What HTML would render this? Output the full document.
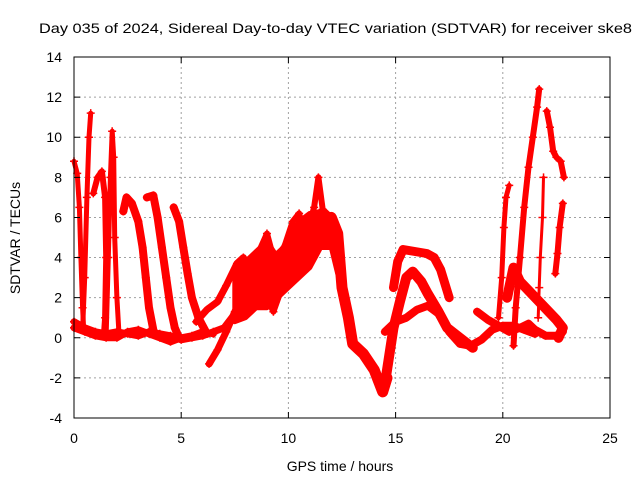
<!DOCTYPE html>
<html><head><meta charset="utf-8"><style>
body{margin:0;background:#fff}
svg{display:block;font-family:"Liberation Sans",sans-serif}
</style></head><body>
<svg id="chart" width="640" height="480" viewBox="0 0 640 480">
<rect width="640" height="480" fill="#fff"/>
<text x="39" y="33" font-size="14" textLength="593" lengthAdjust="spacingAndGlyphs">Day 035 of 2024, Sidereal Day-to-day VTEC variation (SDTVAR) for receiver ske8</text>
<g id="grid"></g>
<g id="marks"></g>
<rect x="74" y="57" width="536" height="361" fill="none" stroke="#000" stroke-width="1"/>
<g id="ticks"></g>
<text x="340" y="471" font-size="14" text-anchor="middle">GPS time / hours</text>
<text transform="translate(20,238) rotate(-90)" font-size="14" text-anchor="middle">SDTVAR / TECUs</text>
</svg>
<script>
const xTicks=[0,5,10,15,20,25];
const yTicks=[-4,-2,0,2,4,6,8,10,12,14];
const bandHours=[7.5,8,8.5,9,9.5,10,10.5,11,11.5,12,12.3];
const bandLow=[0.8,1.0,1.5,1.5,2.0,2.5,3.0,3.5,4.5,4.5,3.2];
const bandHigh=[3.3,3.8,4.3,4.8,4.0,5.0,5.8,6.2,6.3,6.0,5.5];
const baselineA=[[0,0.8],[0.5,0.5],[1,0.3],[1.5,0.2],[2,0.3],[2.5,0.2],[3,0.1],[3.5,0.3],[4,0.2],[4.5,0.1],[5,-0.1],[5.5,0],[6,0.1],[6.5,0.3],[7,0.5],[7.5,1.2]];
const baselineB=[[0,0.5],[0.5,0.3],[1,0.1],[1.5,0],[2,0],[2.5,0.3],[3,0.4],[3.5,0.2],[4,0],[4.5,-0.2],[5,0],[5.5,0.1],[6,0.3],[6.5,0.2]];
const spike1=[[0,8.8],[0.15,8.2],[0.25,6.5],[0.32,4],[0.4,1.5],[0.45,0.5]];
const spike2=[[0.4,0.4],[0.5,3],[0.6,7],[0.7,10],[0.78,11.2]];
const spike3=[[0.9,7.2],[1.1,8],[1.3,8.3],[1.45,7],[1.5,4],[1.45,1],[1.4,0.2]];
const spike4=[[1.5,0.2],[1.6,4],[1.7,8],[1.78,10.3],[1.85,9],[1.9,5],[2,2],[2.1,0.2]];
const spike5=[[2.3,6.3],[2.45,7],[2.7,6.7],[3,5.8],[3.2,4.5],[3.35,3],[3.5,1.5],[3.7,0.4]];
const spike6=[[3.4,7],[3.7,7.1],[3.9,6],[4.1,4.5],[4.3,3],[4.5,1.5],[4.7,0.5],[4.9,0]];
const spike7=[[4.65,6.5],[4.9,5.8],[5.1,4.5],[5.3,3.2],[5.5,2],[5.8,1],[6.2,0.2]];
const riseA=[[6.3,-1.3],[6.7,-0.6],[7.1,0.3],[7.5,1.3],[8,2.2]];
const riseB=[[5.7,0.8],[6.2,1.4],[6.7,1.8],[7.1,2.6],[7.6,3.7],[7.9,4]];
const mainUpper=[[8.5,4],[9,5.2],[9.3,4],[9.8,4.5],[10.2,5.8],[10.5,6.2],[10.8,5],[11.2,6.5],[11.4,8],[11.6,6.4],[12,6]];
const mainLower=[[7.5,1],[8,1.5],[8.5,2.2],[9,2],[9.3,1.3],[9.7,2.5],[10,3.5],[10.5,3.5],[11,4.2],[11.5,5.2]];
const descent=[[12.0,6.0],[12.3,5.2],[12.5,2.5],[12.8,1],[13,-0.3],[13.5,-0.8],[14,-1.6],[14.4,-2.7],[14.6,-2]];
const recovery=[[14.5,-2.3],[14.9,0.5],[15.2,1.8],[15.5,3],[15.8,3.3],[16.2,2.8],[16.5,2.2],[17,1.3],[17.4,0.5],[18,0],[18.6,-0.5]];
const arch=[[14.9,2.5],[15.1,3.8],[15.35,4.4],[15.9,4.3],[16.45,4.2],[16.8,4],[17.1,3.4],[17.5,2]];
const lateBaseA=[[14.5,0.3],[15,0.8],[15.5,1],[16,1.4],[16.5,1.6],[17,1.2],[17.5,0.3],[18,-0.3],[18.5,-0.4],[19,-0.1],[19.5,0.4],[20,0.6],[20.5,0.6],[21,0.4],[21.5,0.2]];
const lateBaseB=[[18.8,1.3],[19.3,0.9],[19.8,0.6],[20.3,0.3],[20.8,0.5],[21.2,0.7],[21.5,0.4],[22,0.1],[22.5,0.1],[22.8,0.3]];
const spikeR1=[[19.8,1],[19.95,3],[20.05,5.5],[20.15,7],[20.3,7.6]];
const spikeR2=[[20.5,-0.4],[20.6,1.5],[20.8,4],[21,6.5],[21.2,8.5],[21.4,10],[21.6,11.5],[21.7,12.4]];
const spikeR3=[[22.05,11.3],[22.2,10.5],[22.35,9.3],[22.5,9],[22.7,8.8],[22.85,8]];
const spikeR4=[[21.9,8],[21.85,6],[21.75,4],[21.7,2.5],[21.65,1]];
const spikeR5=[[22.45,3.2],[22.55,4.2],[22.65,5.5],[22.8,6.7]];
const clusterR=[[20.2,2],[20.5,3.5],[20.8,2.8],[22.5,0.9],[22.8,0.5],[22.6,0]];
const tracks=[baselineA,baselineB,spike1,spike2,spike3,spike4,spike5,spike6,spike7,riseA,riseB,mainUpper,mainLower,descent,recovery,arch,lateBaseA,lateBaseB,spikeR1,spikeR2,spikeR3,spikeR4,spikeR5,clusterR];
const trackNames=['baseline-a','baseline-b','spike-1','spike-2','spike-3','spike-4','spike-5','spike-6','spike-7','rise-a','rise-b','main-upper','main-lower','descent','recovery','arch','late-base-a','late-base-b','spike-r1','spike-r2','spike-r3','spike-r4','spike-r5','cluster-r'];
const widths=[7,7,5,5,6,5,8,8,8,7,7,6,6,11,10,9,8,8,5,6,6,3,6,10];
const NS='http://www.w3.org/2000/svg';
const X0=74,X1=610,Y0=418,Y1=57;
function sx(h){return X0+(h-0)/(25-0)*(X1-X0);}
function sy(v){return Y0-(v-(-4))/(14-(-4))*(Y0-Y1);}
function mk(t,a){const e=document.createElementNS(NS,t);for(const k in a)e.setAttribute(k,a[k]);return e;}
const grid=document.getElementById('grid'),ticks=document.getElementById('ticks'),marks=document.getElementById('marks');
xTicks.forEach(t=>{
 if(t>0&&t<25){const l=mk('line',{x1:sx(t),x2:sx(t),y1:Y1,y2:Y0,stroke:'#a0a0a0','stroke-dasharray':'2,3'});
 
 grid.appendChild(l);}
 const tk=mk('path',{d:`M${sx(t)},${Y0}v-6M${sx(t)},${Y1}v6`,stroke:'#000'});
 
 ticks.appendChild(tk);
 const tx=mk('text',{x:sx(t),y:443,'font-size':14,'text-anchor':'middle'});tx.textContent=t;
 
 ticks.appendChild(tx);
});
yTicks.forEach(t=>{
 if(t>-4&&t<14){const l=mk('line',{x1:X0,x2:X1,y1:sy(t),y2:sy(t),stroke:'#a0a0a0','stroke-dasharray':'2,3'});
 
 grid.appendChild(l);}
 const tk=mk('path',{d:`M${X0},${sy(t)}h6M${X1},${sy(t)}h-6`,stroke:'#000'});
 
 ticks.appendChild(tk);
 const tx=mk('text',{x:62,y:sy(t)+5,'font-size':14,'text-anchor':'end'});tx.textContent=t;
 
 ticks.appendChild(tx);
});
// main band as filled envelope
const up=bandHours.map((h,i)=>sx(h).toFixed(1)+','+sy(bandHigh[i]).toFixed(1));
const lo=bandHours.map((h,i)=>sx(h).toFixed(1)+','+sy(bandLow[i]).toFixed(1)).reverse();
const band=mk('polygon',{points:up.concat(lo).join(' '),fill:'#ff0000',stroke:'#ff0000','stroke-width':5,'stroke-linejoin':'round'});


marks.appendChild(band);
tracks.forEach((tr,i)=>{
 const g=mk('g',{});
 
 
 const pts=tr.map(p=>sx(p[0]).toFixed(1)+','+sy(p[1]).toFixed(1)).join(' ');
 g.appendChild(mk('polyline',{points:pts,fill:'none',stroke:'#ff0000','stroke-width':widths[i],'stroke-linejoin':'round','stroke-linecap':'round'}));
 tr.forEach(p=>{
  const m=mk('path',{d:`M${sx(p[0])-4},${sy(p[1])}h8M${sx(p[0])},${sy(p[1])-4}v8`,stroke:'#ff0000','stroke-width':1.5});
  
  
  g.appendChild(m);
 });
 marks.appendChild(g);
});
</script>
</body></html>
